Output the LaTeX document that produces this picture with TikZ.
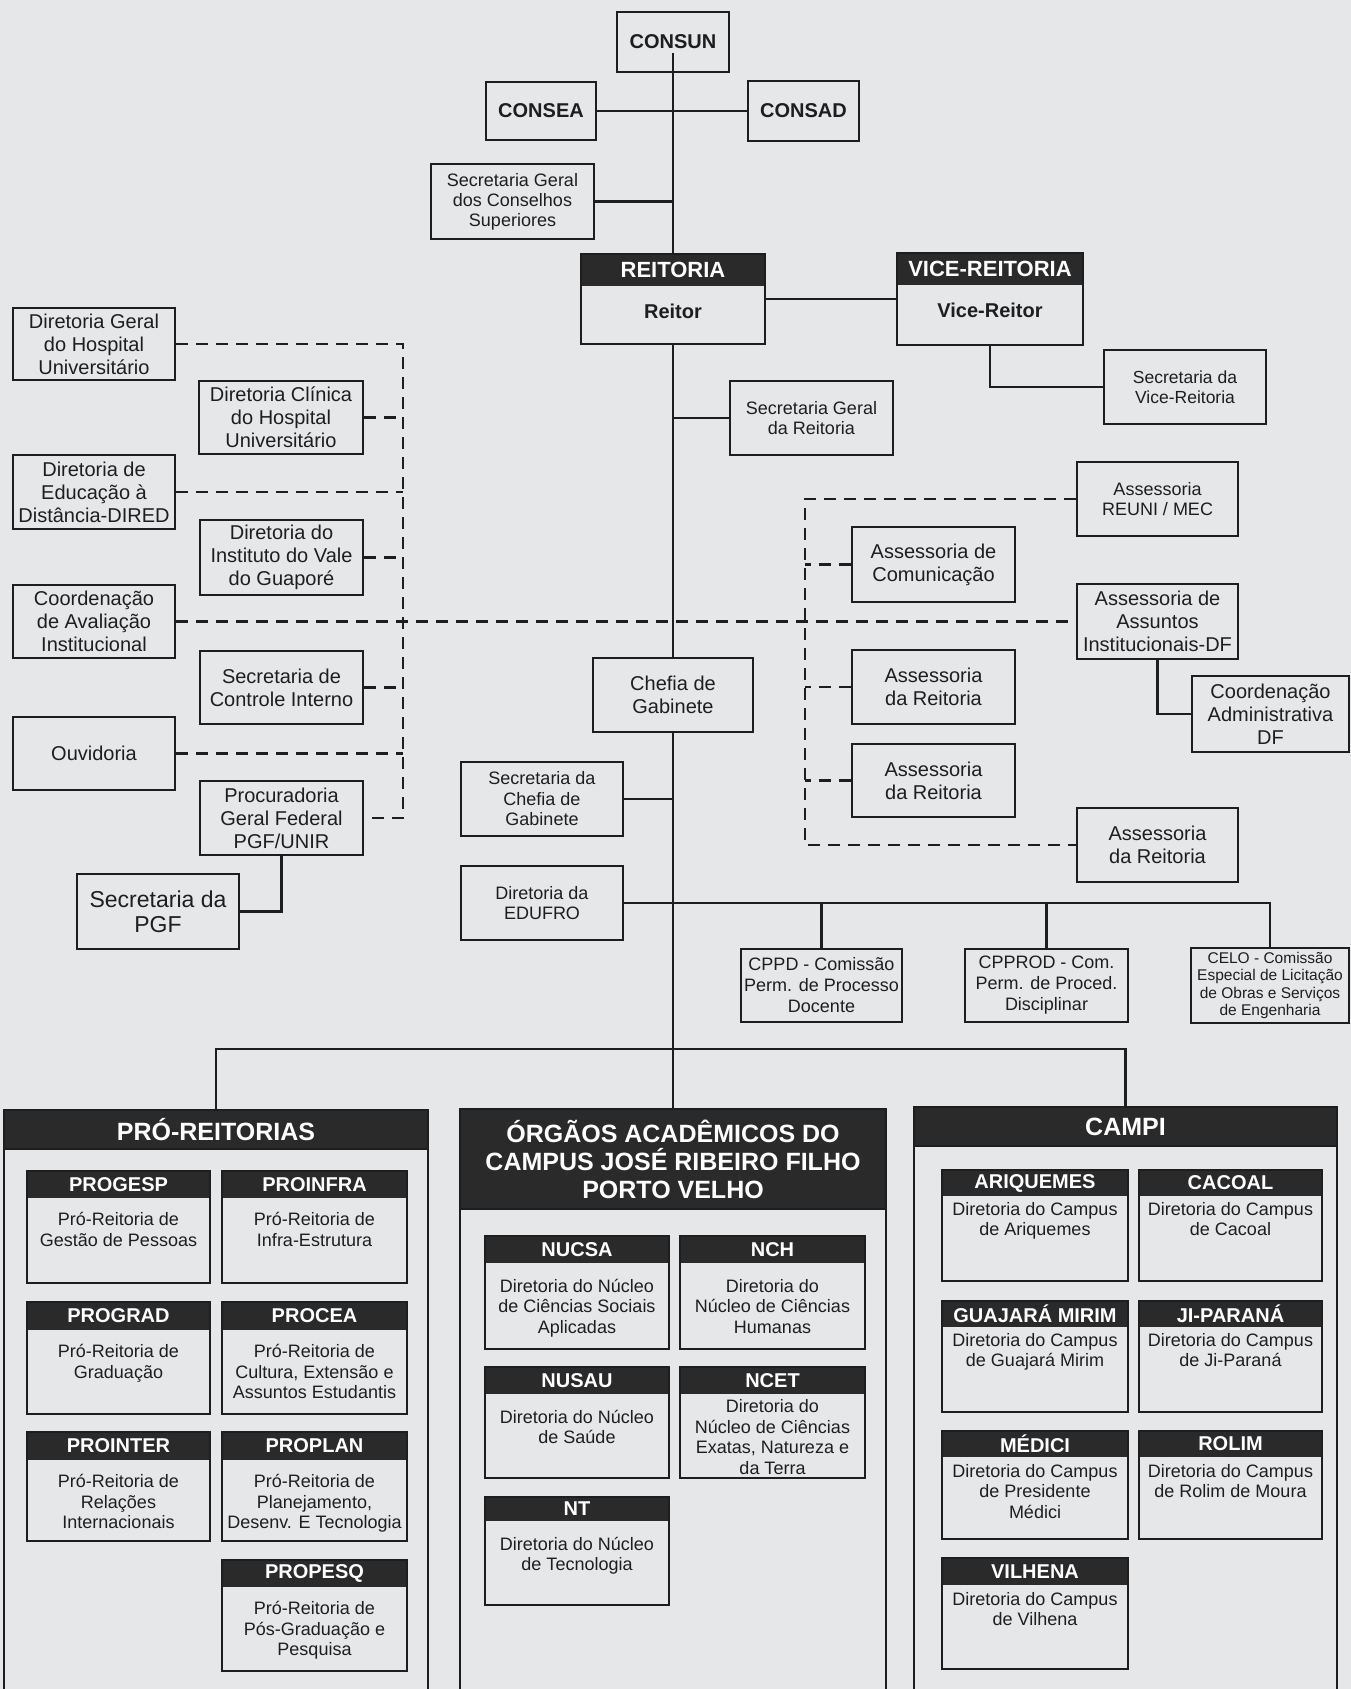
\documentclass[tikz,border=0pt]{standalone}
\usepackage{fontspec}
\setmainfont{Liberation Sans}
\usetikzlibrary{calc}
\definecolor{bg}{RGB}{229,231,233}
\definecolor{ink}{RGB}{30,30,30}
\definecolor{hdr}{RGB}{42,42,42}
\newcommand{\fs}[2]{\fontsize{#1}{#2}\selectfont}
\tikzset{
  box/.style={draw=ink, line width=2.2pt, inner sep=0pt, align=center, text=ink, font=\fs{20}{23}},
  conn/.style={draw=ink, line width=2.1pt},
  dsh/.style={draw=ink, line width=2.1pt, dash pattern=on 12pt off 8pt},
  outer/.style={draw=ink, line width=2.5pt},
  hdrtext/.style={text=white, font=\bfseries\fs{20}{22}, inner sep=0pt},
  bodytext/.style={text=ink, font=\fs{18}{20.5}, align=center, inner sep=0pt, anchor=north},
  bighdr/.style={fill=hdr, draw=ink, line width=2.5pt, inner sep=0pt, text=white, align=center, font=\bfseries\fs{25}{28}},
}
% box by corners: name, x1, y1, x2, y2, text
\newcommand{\bx}[7][]{%
  \pgfmathsetmacro\bxw{#5-#3}\pgfmathsetmacro\bxh{#6-#4}%
  \pgfmathsetmacro\bxx{(#3+#5)/2}\pgfmathsetmacro\bxy{(#4+#6)/2}%
  \node[box,minimum width=\bxw pt,minimum height=\bxh pt,#1] (#2) at (\bxx,\bxy) {#7};}
% unit with dark header: name, x1, y1, x2, y2, header bottom, title, body, gap
\newcommand{\orgunit}[9]{%
  \fill[hdr] (#2,#3) rectangle (#4,#6);
  \bx{#1}{#2}{#3}{#4}{#5}{}
  \pgfmathsetmacro\ux{(#2+#4)/2}\pgfmathsetmacro\uhy{(#3+#6)/2}\pgfmathsetmacro\uby{#6+#9}%
  \node[hdrtext] (#1-h) at (\ux,\uhy) {#7};
  \node[bodytext] (#1-b) at (\ux,\uby) {#8};}
\begin{document}
\begin{tikzpicture}[x=1pt,y=-1pt]
\useasboundingbox (0,0) rectangle (1351,1689);
\fill[bg] (0,0) rectangle (1351,1689);

% ---------- top ----------
\bx[font=\bfseries\fs{20}{23}]{consun}{617}{12}{729}{72}{CONSUN}
\bx[font=\bfseries\fs{20}{23}]{consea}{486}{82}{596}{140}{CONSEA}
\bx[font=\bfseries\fs{20}{23}]{consad}{748}{81}{859}{141}{CONSAD}
\bx[font=\fs{18}{20}]{secons}{431}{164}{594}{239}{Secretaria Geral\\dos Conselhos\\Superiores}

\fill[hdr] (581,254) rectangle (765,286);
\bx{reitoria}{581}{254}{765}{344}{}
\node[hdrtext, font=\bfseries\fs{22}{24}] (reitoria-h) at (673,270) {REITORIA};
\node[font=\bfseries\fs{20}{23}, text=ink, inner sep=0pt] (reitor) at (673,311) {Reitor};

\fill[hdr] (897,253) rectangle (1083,285);
\bx{vice}{897}{253}{1083}{345}{}
\node[hdrtext, font=\bfseries\fs{22}{24}] (vice-h) at (990,269) {VICE-REITORIA};
\node[font=\bfseries\fs{20}{23}, text=ink, inner sep=0pt] (vicereitor) at (990,310) {Vice-Reitor};

\bx[font=\fs{17.5}{20}]{secvice}{1104}{350}{1266}{424}{Secretaria da\\Vice-Reitoria}
\bx[font=\fs{18}{20}]{sgreit}{730}{381}{893}{455}{Secretaria Geral\\da Reitoria}

% ---------- left ----------
\bx{dgh}{13}{308}{175}{380}{Diretoria Geral\\do Hospital\\Universitário}
\bx{dch}{199}{381}{363}{454}{Diretoria Clínica\\do Hospital\\Universitário}
\bx{ded}{13}{455}{175}{529}{Diretoria de\\Educação à\\Distância-DIRED}
\bx{div}{200}{520}{363}{595}{Diretoria do\\Instituto do Vale\\do Guaporé}
\bx{cav}{13}{585}{175}{658}{Coordenação\\de Avaliação\\Institucional}
\bx{sci}{200}{651}{363}{724}{Secretaria de\\Controle Interno}
\bx{ouv}{13}{717}{175}{790}{Ouvidoria}
\bx{pgf}{200}{781}{363}{855}{Procuradoria\\Geral Federal\\PGF/UNIR}
\bx[font=\fs{23}{25}]{spgf}{77}{874}{239}{949}{Secretaria da\\PGF}

% ---------- right ----------
\bx[font=\fs{18}{20}]{reuni}{1077}{462}{1238}{536}{Assessoria\\REUNI / MEC}
\bx{acom}{852}{527}{1015}{602}{Assessoria de\\Comunicação}
\bx{aai}{1077}{584}{1238}{659}{Assessoria de\\Assuntos\\Institucionais-DF}
\bx{cadf}{1192}{676}{1349}{752}{Coordenação\\Administrativa\\DF}
\bx{ar1}{852}{650}{1015}{724}{Assessoria\\da Reitoria}
\bx{ar2}{852}{744}{1015}{817}{Assessoria\\da Reitoria}
\bx{ar3}{1077}{808}{1238}{882}{Assessoria\\da Reitoria}

% ---------- centre ----------
\bx{chefia}{593}{658}{753}{732}{Chefia de\\Gabinete}
\bx[font=\fs{18}{20.5}]{secch}{461}{762}{623}{836}{Secretaria da\\Chefia de\\Gabinete}
\bx[font=\fs{18}{20.5}]{edufro}{461}{866}{623}{940}{Diretoria da\\EDUFRO}
\bx[font=\fs{18}{21}]{cppd}{741}{949}{902}{1022}{CPPD - Comissão\\Perm. de Processo\\Docente}
\bx[font=\fs{18}{21}]{cpprod}{965}{949}{1128}{1022}{CPPROD - Com.\\Perm. de Proced.\\Disciplinar}
\bx[font=\fs{15.5}{17.5}]{celo}{1191}{948}{1349}{1023}{CELO - Comissão\\Especial de Licitação\\de Obras e Serviços\\de Engenharia}

% ---------- bottom containers ----------
\draw[outer] (4,1700) -- (4,1110) -- (428,1110) -- (428,1700);
\node[bighdr, minimum width=424pt, minimum height=39pt] (pro) at (216,1129.5) {PRÓ-REITORIAS};
\draw[outer] (460,1700) -- (460,1109) -- (886,1109) -- (886,1700);
\node[bighdr, minimum width=426pt, minimum height=100pt] (org) at (673,1159) {ÓRGÃOS ACADÊMICOS DO\\CAMPUS JOSÉ RIBEIRO FILHO\\PORTO VELHO};
\draw[outer] (914,1700) -- (914,1107) -- (1337,1107) -- (1337,1700);
\node[bighdr, minimum width=423pt, minimum height=39pt] (campi) at (1125.5,1126.5) {CAMPI};

\orgunit{progesp}{27}{1171}{210}{1283}{1198}{PROGESP}{Pró-Reitoria de\\Gestão de Pessoas}{14.5}
\orgunit{proinfra}{222}{1171}{407}{1283}{1198}{PROINFRA}{Pró-Reitoria de\\Infra-Estrutura}{14.5}
\orgunit{prograd}{27}{1302}{210}{1414}{1330}{PROGRAD}{Pró-Reitoria de\\Graduação}{14.5}
\orgunit{procea}{222}{1302}{407}{1414}{1330}{PROCEA}{Pró-Reitoria de\\Cultura, Extensão e\\Assuntos Estudantis}{14.5}
\orgunit{prointer}{27}{1432}{210}{1541}{1460}{PROINTER}{Pró-Reitoria de\\Relações\\Internacionais}{14.5}
\orgunit{proplan}{222}{1432}{407}{1541}{1460}{PROPLAN}{Pró-Reitoria de\\Planejamento,\\Desenv. E Tecnologia}{14.5}
\orgunit{propesq}{222}{1560}{407}{1671}{1587}{PROPESQ}{Pró-Reitoria de\\Pós-Graduação e\\Pesquisa}{14.5}

\orgunit{nucsa}{485}{1236}{669}{1349}{1263}{NUCSA}{Diretoria do Núcleo\\de Ciências Sociais\\Aplicadas}{16}
\orgunit{nch}{680}{1236}{865}{1349}{1263}{NCH}{Diretoria do\\Núcleo de Ciências\\Humanas}{16}
\orgunit{nusau}{485}{1367}{669}{1478}{1394}{NUSAU}{Diretoria do Núcleo\\de Saúde}{16}
\orgunit{ncet}{680}{1367}{865}{1478}{1394}{NCET}{Diretoria do\\Núcleo de Ciências\\Exatas, Natureza e\\da Terra}{5.5}
\orgunit{nt}{485}{1497}{669}{1605}{1521}{NT}{Diretoria do Núcleo\\de Tecnologia}{16}

\orgunit{ariq}{942}{1170}{1128}{1281}{1196}{ARIQUEMES}{Diretoria do Campus\\de Ariquemes}{6}
\orgunit{cacoal}{1139}{1170}{1322}{1281}{1196}{CACOAL}{Diretoria do Campus\\de Cacoal}{6}
\orgunit{guaj}{942}{1301}{1128}{1412}{1327}{GUAJARÁ MIRIM}{Diretoria do Campus\\de Guajará Mirim}{6}
\orgunit{jipa}{1139}{1301}{1322}{1412}{1327}{JI-PARANÁ}{Diretoria do Campus\\de Ji-Paraná}{6}
\orgunit{medici}{942}{1431}{1128}{1539}{1457}{MÉDICI}{Diretoria do Campus\\de Presidente\\Médici}{7}
\orgunit{rolim}{1139}{1431}{1322}{1539}{1457}{ROLIM}{Diretoria do Campus\\de Rolim de Moura}{7}
\orgunit{vilhena}{942}{1558}{1128}{1669}{1585}{VILHENA}{Diretoria do Campus\\de Vilhena}{7}

% ---------- solid connectors ----------
\draw[conn] (consun.center) ++(0,11) -- (reitoria.north);
\draw[conn] (consea.east) -- (consad.west);
\draw[conn] (secons.east) -- (secons.east -| reitoria.north);
\draw[conn] (reitoria.east) -- (vice.west);
\draw[conn] (vice.south) |- (secvice.west);
\draw[conn] (reitoria.south) -- (chefia.north);
\draw[conn] (sgreit.west) -- (sgreit.west -| reitoria.south);
\draw[conn] (chefia.south) -- (org.north);
\draw[conn] (secch.east) -- (secch.east -| chefia.south);
\draw[conn] (edufro.east) -| (celo.north);
\draw[conn] (cppd.north) -- (cppd.north |- edufro.east);
\draw[conn] (cpprod.north) -- (cpprod.north |- edufro.east);
\coordinate (hub) at (673,1049);
\draw[conn] (pro.north) |- (hub) -| (campi.north);
\draw[conn] (pgf.south) |- (spgf.east);
\draw[conn] (aai.south) |- (cadf.west);

% ---------- dashed connectors ----------
\coordinate (lvx) at (403,0);
\draw[dsh] (dgh.east) -- (dgh.east -| lvx) -- (pgf.east -| lvx) -- (pgf.east);
\foreach \n in {dch,ded,div,sci,ouv} \draw[dsh] (\n.east) -- (\n.east -| lvx);
\draw[dsh] (cav.east) -- (cav.east -| aai.west);
\coordinate (rvx) at (805,0);
\draw[dsh] (reuni.west) -- (reuni.west -| rvx) -- (ar3.west -| rvx) -- (ar3.west);
\foreach \n in {acom,ar1,ar2} \draw[dsh] (\n.west) -- (\n.west -| rvx);
\end{tikzpicture}
\end{document}
